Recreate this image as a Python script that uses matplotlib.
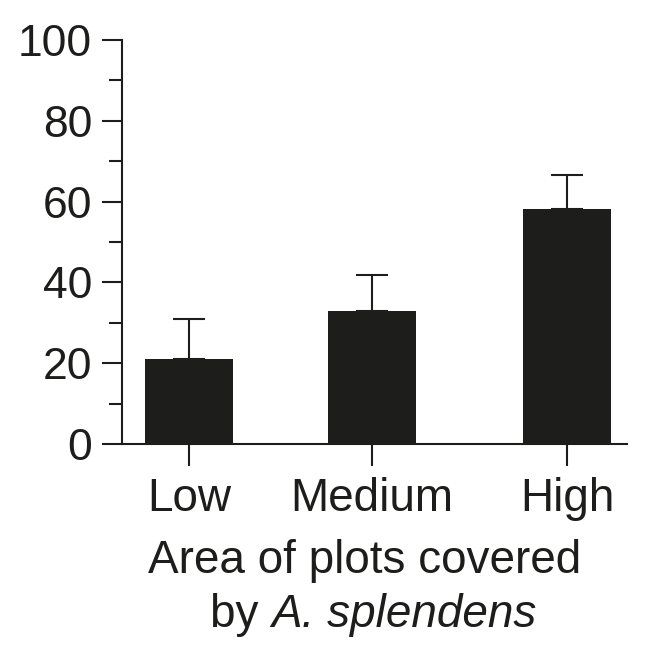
import numpy as np
import matplotlib
matplotlib.use("Agg")
from matplotlib import pyplot as plt
from matplotlib.ticker import MultipleLocator

# data
categories = ["Low", "Medium", "High"]
means = [21.0, 32.9, 58.2]
errors = [9.9, 8.9, 8.4]

plt.rcParams['font.family'] = ['Liberation Sans', 'DejaVu Sans']

ink = '#1d1d1b'
W, H = 645, 654

fig = plt.figure(figsize=(6.45, 6.54), dpi=100)
ax = fig.add_axes([0.189, 0.321, 0.783, 0.618])

# bar centres are not quite evenly spaced in the original
x = np.array([0, 0.968, 2.0])
ax.bar(x, means, width=0.465, color=ink, zorder=2)
ax.errorbar(x, means, yerr=[np.zeros(3), errors], fmt='none', ecolor=ink,
            elinewidth=1.5, capsize=11.5, capthick=1.5, zorder=1)

ax.set_xlim(-0.354, 2.317)
ax.set_ylim(0, 100)
ax.yaxis.set_major_locator(MultipleLocator(20))
ax.yaxis.set_minor_locator(MultipleLocator(10))
ax.set_xticks(x)
ax.set_xticklabels(categories)

for s in ['top', 'right']:
    ax.spines[s].set_visible(False)
for s in ['left', 'bottom']:
    ax.spines[s].set_linewidth(1.5)
    ax.spines[s].set_color(ink)

ax.tick_params(axis='y', which='major', length=14.5, width=1.5, color=ink,
               labelsize=32, labelcolor=ink, pad=7)
ax.tick_params(axis='y', which='minor', length=9.5, width=1.5, color=ink)
ax.tick_params(axis='x', which='major', length=16, width=1.5, color=ink,
               labelsize=33, labelcolor=ink, pad=8)

# axis title, two lines, second one partly italic
fig.text(365 / W, 1 - 573 / H, "Area of plots covered", fontsize=33,
         color=ink, ha='center', va='baseline')
t1 = fig.text(0, 1 - 627 / H, "by ", fontsize=33, color=ink,
              ha='left', va='baseline')
t2 = fig.text(0, 1 - 627 / H, "A. splendens", fontsize=33, color=ink,
              style='italic', ha='left', va='baseline')
r = fig.canvas.get_renderer()
w1 = t1.get_window_extent(r).width
w2 = t2.get_window_extent(r).width
start = 373 - (w1 + w2) / 2
t1.set_x(start / W)
t2.set_x((start + w1) / W)

fig.savefig('out.png', dpi=100)
